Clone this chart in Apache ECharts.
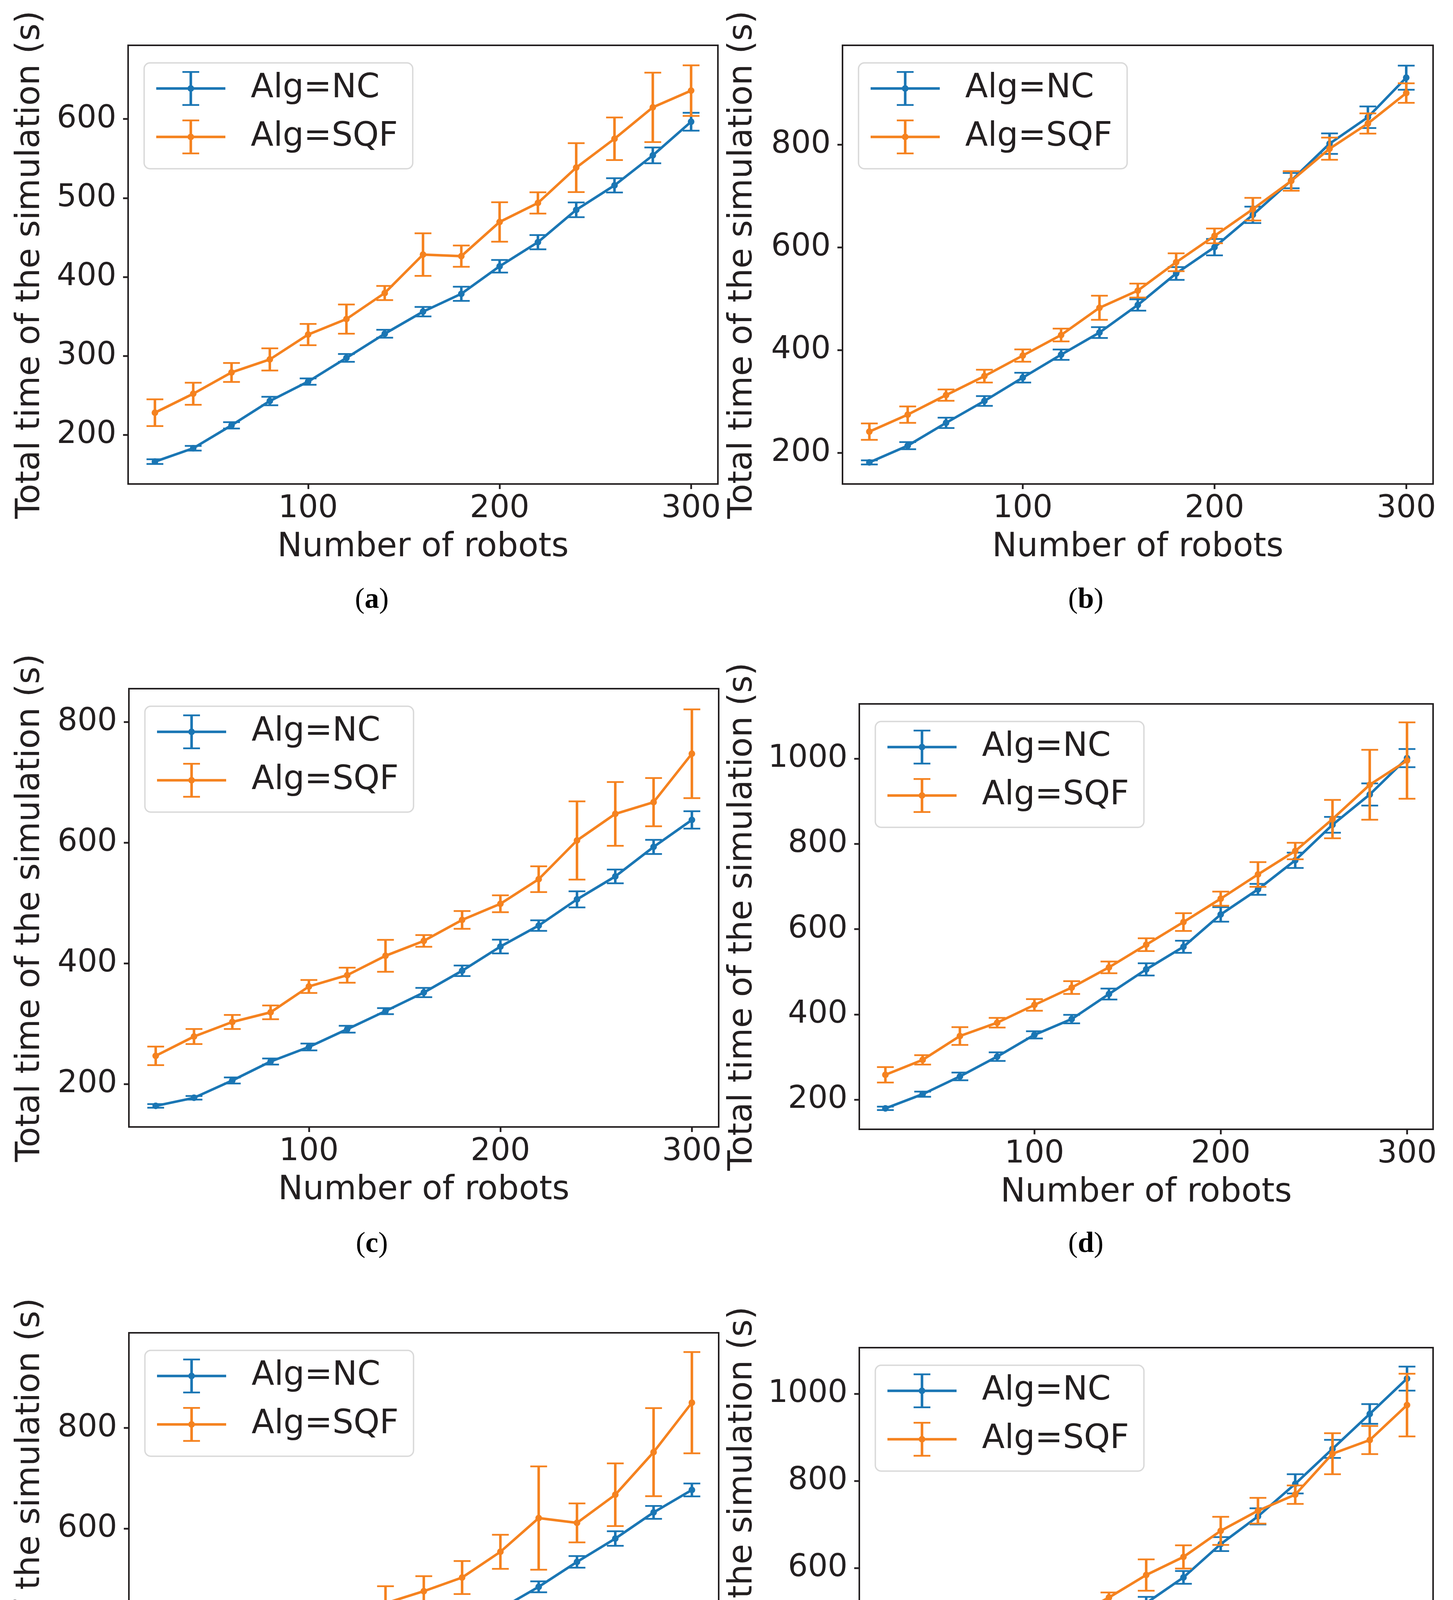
<!DOCTYPE html>
<html><head><meta charset="utf-8">
<script src="https://cdn.jsdelivr.net/npm/echarts@6/dist/echarts.min.js"></script>
<style>html,body{margin:0;padding:0;background:#fff}#c{width:3720px;height:4903px}</style>
</head><body><div id="c"></div>
<script>
// ---------------- data ----------------
const robots = [20, 40, 60, 80, 100, 120, 140, 160, 180, 200, 220, 240, 260, 280, 300];
const xTicks = [100, 200, 300];

// (a)
const ncA     = [166, 183, 212, 242.8, 267.4, 297.4, 328, 356, 378.6, 413.5, 444, 485, 516, 554, 596.6];
const ncAErr  = [3, 3, 4, 5.4, 4, 5, 5, 6, 9, 8, 9, 9.3, 9, 10, 11.3];
const sqfA    = [228, 252, 279, 295.5, 327, 346.6, 379.6, 428.3, 426.3, 469.6, 493.7, 538.5, 575, 614.8, 636];
const sqfAErr = [17, 14, 12, 14, 13.5, 18.5, 9, 27, 13.5, 25, 13.5, 31, 27, 44, 32];
const yTicksA = [200, 300, 400, 500, 600];

// (b)
const ncB     = [181, 213.6, 258, 300.6, 346, 390.7, 433.8, 487.5, 548.8, 600, 663, 729.6, 801.5, 853, 930];
const ncBErr  = [4, 7, 10, 9.5, 9.5, 10, 10.6, 11, 12.5, 16, 16, 15, 20, 21, 23.5];
const sqfB    = [240.9, 274, 312, 349, 389, 429, 482, 515.5, 570.7, 622, 674, 728.9, 791.7, 840.8, 900];
const sqfBErr = [16, 16, 11, 12.5, 12, 12.5, 23.5, 13.6, 17.4, 14.4, 22, 19, 21.6, 19.7, 19];
const yTicksB = [200, 400, 600, 800];

// (c)
const ncC     = [163.9, 177.3, 206, 237.4, 261.5, 290.9, 320.9, 351.7, 387.7, 427.8, 462.6, 506, 544, 592.9, 637.6];
const ncCErr  = [3, 3, 5, 5, 5.7, 5.7, 5, 7.7, 8.7, 11.4, 8.7, 13.4, 11.4, 11.7, 14.4];
const sqfC    = [246.8, 278.8, 302.9, 318.9, 361.7, 380.4, 412.5, 437.2, 471.9, 498.7, 539.4, 603.6, 647.6, 667, 747.2];
const sqfCErr = [15.4, 12.4, 11.7, 11.4, 10.7, 12.4, 26.4, 9.7, 14.7, 14, 21.4, 64.8, 52.8, 40, 73.5];
const yTicksC = [200, 400, 600, 800];

// (d)
const ncD     = [180, 213.3, 254.9, 301.3, 352.4, 389.3, 448, 505.8, 558.8, 634.6, 693.3, 761.4, 844.7, 915.7, 1001];
const ncDErr  = [4, 6, 9, 10, 8.5, 10, 12.8, 14.2, 14.2, 17, 12.8, 18, 18.5, 26, 21.3];
const sqfD    = [258.7, 293.7, 349.6, 380.8, 422.5, 463.2, 510.5, 563.6, 616.6, 671.5, 728.3, 783.2, 858, 938.5, 995.3];
const sqfDErr = [18, 11, 20.8, 11.4, 13.7, 15, 13.7, 15, 20.8, 16.6, 28.9, 19.4, 45, 81.9, 89.5];
const yTicksD = [200, 400, 600, 800, 1000];

// (e)
const ncE     = [163.3, 175.3, 203.2, 231.1, 261.4, 290.2, 320.5, 357.2, 394.7, 441, 484.8, 534.3, 580.6, 632.5, 677.1];
const ncEErr  = [3, 3, 4.4, 5, 5.6, 5.6, 5.6, 7.2, 8.8, 9.2, 10.8, 11.6, 14.4, 12.8, 12.8];
const sqfE    = [259, 294.2, 325.3, 361.2, 377.9, 412.2, 452.1, 476.1, 503.2, 554.3, 621.3, 611.7, 667.6, 752.1, 850.3];
const sqfEErr = [10.4, 13.6, 14, 26.7, 13.6, 20.3, 33.9, 29.9, 32.7, 33.9, 102.5, 38.7, 62.2, 87.4, 100.5];
const yTicksE = [200, 400, 600, 800];

// (f)
const ncF     = [178.8, 210.1, 252.5, 299.5, 353, 395.4, 458, 519.8, 578.8, 655.3, 718.9, 793.5, 873.7, 953.9, 1035];
const ncFErr  = [3.5, 5, 7.4, 6.5, 11.5, 8.8, 11, 14.3, 14.7, 16, 18.4, 22, 20.7, 22.6, 27.6];
const sqfF    = [276.5, 312.4, 368.7, 409.2, 454.4, 486.6, 532.7, 584.3, 625.8, 685.7, 731.8, 768.7, 862.7, 894, 974.2];
const sqfFErr = [11, 10.6, 20.3, 18, 17, 12.4, 11.5, 36, 26.7, 32.3, 29.5, 21.2, 47, 32.3, 71.9];
const yTicksF = [200, 400, 600, 800, 1000];

const seriesNames = ['Alg=NC', 'Alg=SQF'];
const captions = ['a', 'b', 'c', 'd', 'e', 'f'];
const xName = 'Number of robots';
const yName = 'Total time of the simulation (s)';

// ---------------- layout / style ----------------
const FONT = 'DejaVu Sans';
const TXT = '#231f20';
const BLUE = '#1a76b4', ORANGE = '#f5821f';

const panels = [
  {nc: ncA, ncErr: ncAErr, sqf: sqfA, sqfErr: sqfAErr, yTicks: yTicksA, yMin: 137.7, yMax: 693.4,
   grid: {left: 328, top: 116, width: 1510, height: 1123}, yGap: 208, cap: [952, 1537]},
  {nc: ncB, ncErr: ncBErr, sqf: sqfB, sqfErr: sqfBErr, yTicks: yTicksB, yMin: 139, yMax: 993,
   grid: {left: 2157, top: 116, width: 1512, height: 1123}, yGap: 213, cap: [2780, 1537]},
  {nc: ncC, ncErr: ncCErr, sqf: sqfC, sqfErr: sqfCErr, yTicks: yTicksC, yMin: 129, yMax: 855,
   grid: {left: 330, top: 1763, width: 1510, height: 1122}, yGap: 210, cap: [952, 3186]},
  {nc: ncD, ncErr: ncDErr, sqf: sqfD, sqfErr: sqfDErr, yTicks: yTicksD, yMin: 131, yMax: 1128,
   grid: {left: 2200, top: 1802, width: 1469, height: 1089}, yGap: 256, cap: [2780, 3186]},
  {nc: ncE, ncErr: ncEErr, sqf: sqfE, sqfErr: sqfEErr, yTicks: yTicksE, yMin: 119, yMax: 989,
   grid: {left: 330, top: 3412, width: 1510, height: 1122}, yGap: 210, cap: [952, 4831]},
  {nc: ncF, ncErr: ncFErr, sqf: sqfF, sqfErr: sqfFErr, yTicks: yTicksF, yMin: 129, yMax: 1106,
   grid: {left: 2200, top: 3450, width: 1469, height: 1090}, yGap: 256, cap: [2780, 4831]}
];

// legend handle: horizontal line + error bar with caps + dot (177 x 89)
const ICON = 'path://M0 41.2 H177 V47.8 H0 Z M85.2 0 H91.8 V89 H85.2 Z M67 0 H110 V4.5 H67 Z M67 84.5 H110 V89 H67 Z M80 44.5 A8.5 8.5 0 1 1 97 44.5 A8.5 8.5 0 1 1 80 44.5 Z';

function errRender(params, api) {
  const x = api.value(0), lo = api.value(1), hi = api.value(2);
  const a = api.coord([x, lo]), b = api.coord([x, hi]);
  const hw = 21.5;
  const color = api.visual('color');
  const bar = {stroke: color, lineWidth: 6.5, fill: null};
  const cap = {stroke: color, lineWidth: 4.5, fill: null};
  return {type: 'group', children: [
    {type: 'line', shape: {x1: a[0], y1: a[1], x2: b[0], y2: b[1]}, style: bar},
    {type: 'line', shape: {x1: a[0] - hw, y1: a[1], x2: a[0] + hw, y2: a[1]}, style: cap},
    {type: 'line', shape: {x1: b[0] - hw, y1: b[1], x2: b[0] + hw, y2: b[1]}, style: cap}
  ]};
}

const grids = [], xAxes = [], yAxes = [], series = [], legends = [], graphics = [];

panels.forEach((p, i) => {
  grids.push(Object.assign({show: true, borderColor: TXT, borderWidth: 4, backgroundColor: 'transparent', containLabel: false}, p.grid));
  const axisCommon = {
    axisLine: {show: true, onZero: false, lineStyle: {color: TXT, width: 4}},
    axisTick: {show: true, inside: false, length: 13, lineStyle: {color: TXT, width: 4.5}},
    splitLine: {show: false}
  };
  xAxes.push(Object.assign({}, axisCommon, {
    type: 'value', gridIndex: i, min: 6, max: 314,
    name: xName, nameLocation: 'middle', nameGap: 120,
    nameTextStyle: {fontFamily: FONT, fontSize: 85, color: TXT},
    axisTick: Object.assign({}, axisCommon.axisTick, {customValues: xTicks}),
    axisLabel: {customValues: xTicks, fontFamily: FONT, fontSize: 80, color: TXT, margin: 24,
                formatter: v => String(v)}
  }));
  yAxes.push(Object.assign({}, axisCommon, {
    type: 'value', gridIndex: i, min: p.yMin, max: p.yMax,
    name: yName, nameLocation: 'middle', nameGap: p.yGap,
    nameTextStyle: {fontFamily: FONT, fontSize: 85, color: TXT},
    axisTick: Object.assign({}, axisCommon.axisTick, {customValues: p.yTicks}),
    axisLabel: {customValues: p.yTicks, fontFamily: FONT, fontSize: 80, color: TXT, margin: 30,
                formatter: v => String(v)}
  }));

  [[p.nc, p.ncErr, BLUE, seriesNames[0], 2], [p.sqf, p.sqfErr, ORANGE, seriesNames[1], 3]].forEach(([vals, errs, color, name, z]) => {
    series.push({
      type: 'line', name: name, xAxisIndex: i, yAxisIndex: i, z: z,
      data: robots.map((r, k) => [r, vals[k]]),
      symbol: 'circle', symbolSize: 17, showSymbol: true,
      lineStyle: {color: color, width: 6.5}, itemStyle: {color: color, borderWidth: 0},
      emphasis: {disabled: true}, animation: false
    });
    series.push({
      type: 'custom', name: name, xAxisIndex: i, yAxisIndex: i, z: z,
      data: robots.map((r, k) => [r, vals[k] - errs[k], vals[k] + errs[k]]),
      encode: {x: 0, y: [1, 2]},
      itemStyle: {color: color}, renderItem: errRender, animation: false, silent: true
    });
  });

  legends.push({
    orient: 'vertical', left: p.grid.left + 41, top: p.grid.top + 45,
    data: seriesNames.map(n => ({name: n, icon: ICON})),
    itemWidth: 177, itemHeight: 89, itemGap: 35,
    padding: [21, 38, 37, 31],
    itemStyle: {borderWidth: 0},
    textStyle: {fontFamily: FONT, fontSize: 85, color: TXT, lineHeight: 89, padding: [0, 0, 0, 60]},
    backgroundColor: 'rgba(255,255,255,0.8)', borderColor: '#d9d9d9', borderWidth: 3.5, borderRadius: 15,
    selectedMode: false
  });

  graphics.push({
    type: 'text', x: p.cap[0], y: p.cap[1],
    style: {
      text: '{p|(}{b|' + captions[i] + '}{p|)}', align: 'center', verticalAlign: 'middle',
      rich: {
        p: {fontFamily: 'Liberation Serif', fontSize: 74, fontWeight: 'normal', color: '#000'},
        b: {fontFamily: 'Liberation Serif', fontSize: 74, fontWeight: 'bold', color: '#000'}
      }
    }
  });
});

const chart = echarts.init(document.getElementById('c'), null, {renderer: 'canvas'});
chart.setOption({
  animation: false,
  backgroundColor: '#ffffff',
  grid: grids, xAxis: xAxes, yAxis: yAxes, series: series,
  legend: legends, graphic: graphics
});
</script></body></html>
